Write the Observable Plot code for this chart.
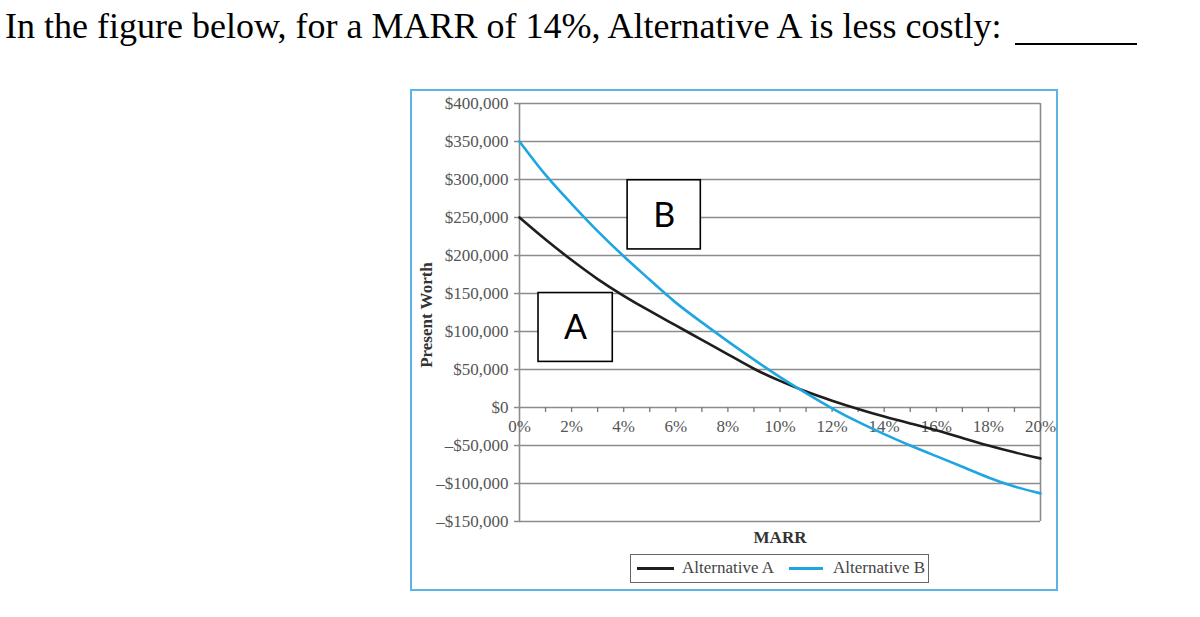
<!DOCTYPE html>
<html>
<head>
<meta charset="utf-8">
<script src="https://cdn.jsdelivr.net/npm/d3@7"></script>
<script src="https://cdn.jsdelivr.net/npm/@observablehq/plot@0.6"></script>
<style>
  html, body { margin: 0; padding: 0; background: #fff; width: 1200px; height: 617px; overflow: hidden; }
  #title { position: absolute; left: 5px; top: 8px; font-family: "Liberation Serif", serif; font-size: 36px; line-height: 36px; color: #000; white-space: nowrap; }
  #blank { position: absolute; left: 1015px; top: 43px; width: 122px; border-top: 2px solid #000; }
  #frame { position: absolute; left: 410px; top: 89px; width: 644px; height: 498px; border: 2px solid #5ab4e5; }
  #chart { position: absolute; left: 0; top: 0; width: 700px; }
  #chart svg { background: transparent !important; overflow: visible; max-width: none !important; }
  #ylabel { position: absolute; left: 15px; top: 224px; transform: translate(-50%, -50%) rotate(-90deg); font-family: "Liberation Serif", serif; font-weight: bold; font-size: 17px; color: #333; white-space: nowrap; }
  #xlabel { position: absolute; left: 368px; top: 447px; transform: translate(-50%, -50%); font-family: "Liberation Serif", serif; font-weight: bold; font-size: 17px; color: #333; }
  #legend { position: absolute; left: 218px; top: 463px; width: 297px; height: 27px; border: 1.5px solid #666; font-family: "Liberation Serif", serif; font-size: 17px; color: #444; }
  .sw { position: absolute; top: 12px; height: 3px; }
  .lt { position: absolute; top: 3px; line-height: 20px; white-space: nowrap; }
</style>
</head>
<body>
<div id="title">In the figure below, for a MARR of 14%, Alternative A is less costly:</div>
<div id="blank"></div>
<div id="frame">
  <div id="chart"></div>
  <div id="ylabel">Present Worth</div>
  <div id="xlabel">MARR</div>
  <div id="legend"></div>
</div>
<script>
// MARR values (%)
const marr = [0,1,2,3,4,5,6,7,8,9,10,11,12,13,14,15,16,17,18,19,20];
// Present worth, Alternative A
const pwA = [250000,221000,194000,169000,147000,127000,108000,89000,70000,51000,35000,21000,9000,-2000,-12000,-21000,-30000,-40000,-50000,-59000,-67000];
// Present worth, Alternative B
const pwB = [350000,306000,268000,232000,199000,168000,138000,112000,87000,63000,40000,19000,-1000,-19000,-35000,-50000,-64000,-78000,-92000,-104000,-113000];

const seriesNames = ["Alternative A", "Alternative B"];
const seriesColors = ["#1e1e1e", "#1ea6e0"];

const yTicks = [400000,350000,300000,250000,200000,150000,100000,50000,0,-50000,-100000,-150000];
const yTickLabels = ["$400,000","$350,000","$300,000","$250,000","$200,000","$150,000","$100,000","$50,000","$0","\u2013$50,000","\u2013$100,000","\u2013$150,000"];
const xTicks = [0,2,4,6,8,10,12,14,16,18,20];
const xTickLabels = ["0%","2%","4%","6%","8%","10%","12%","14%","16%","18%","20%"];
const xMinorTicks = [1,2,3,4,5,6,7,8,9,10,11,12,13,14,15,16,17,18,19];

// Annotation boxes (in chart units)
const boxLabels = ["A", "B"];
const boxMarrFrom = [0.73, 4.15];
const boxMarrTo = [3.58, 6.96];
const boxPwFrom = [60000, 208000];
const boxPwTo = [150600, 299000];

const series = [
  ...marr.map((m, i) => ({marr: m, pw: pwA[i], s: seriesNames[0]})),
  ...marr.map((m, i) => ({marr: m, pw: pwB[i], s: seriesNames[1]}))
];
const boxes = boxLabels.map((l, i) => ({label: l, x1: boxMarrFrom[i], x2: boxMarrTo[i], y1: boxPwFrom[i], y2: boxPwTo[i]}));

const serif = "Liberation Serif, serif";

const chart = Plot.plot({
  width: 656,
  height: 452,
  marginLeft: 107,
  marginRight: 28,
  marginTop: 12,
  marginBottom: 22,
  style: {fontFamily: serif, fontSize: "17px", background: "transparent", maxWidth: "none"},
  x: {domain: [0, 20], axis: null},
  y: {domain: [-150000, 400000], axis: null},
  color: {domain: seriesNames, range: seriesColors},
  marks: [
    Plot.ruleY(yTicks, {y: d => d, stroke: "#8c8c8c", strokeWidth: 1.6, insetLeft: -5}),
    Plot.ruleX([0, 20], {stroke: "#8c8c8c", strokeWidth: 1.6}),
    Plot.text(yTicks, {y: d => d, text: (d, i) => yTickLabels[i], frameAnchor: "left", textAnchor: "end", dx: -11, fill: "#555", fontSize: 17, fontFamily: serif}),
    Plot.ruleX(xMinorTicks, {x: d => d, y1: 0, y2: 0, insetBottom: -5, stroke: "#777", strokeWidth: 1.3}),
    Plot.text(xTicks, {x: d => d, y: 0, text: (d, i) => xTickLabels[i], dy: 19, fill: "#555", fontSize: 17, fontFamily: serif}),
    Plot.line(series, {x: "marr", y: "pw", stroke: "s", z: "s", strokeWidth: 2.6, curve: "natural"}),
    Plot.rect(boxes, {x1: "x1", x2: "x2", y1: "y1", y2: "y2", fill: "white", stroke: "#000", strokeWidth: 1.6}),
    Plot.text(boxes, {x: d => (d.x1 + d.x2) / 2, y: d => (d.y1 + d.y2) / 2, text: "label", fontSize: 34, fontFamily: "Lato, sans-serif", fill: "#000", dy: 1})
  ]
});
document.getElementById("chart").appendChild(chart);

// legend
const legend = document.getElementById("legend");
const swLeft = [6, 158], swWidth = [37, 34], txtLeft = [51, 202];
seriesNames.forEach((n, i) => {
  const sw = document.createElement("div");
  sw.className = "sw";
  sw.style.left = swLeft[i] + "px";
  sw.style.width = swWidth[i] + "px";
  sw.style.background = seriesColors[i];
  legend.appendChild(sw);
  const t = document.createElement("div");
  t.className = "lt";
  t.style.left = txtLeft[i] + "px";
  t.textContent = n;
  legend.appendChild(t);
});
</script>
</body>
</html>
